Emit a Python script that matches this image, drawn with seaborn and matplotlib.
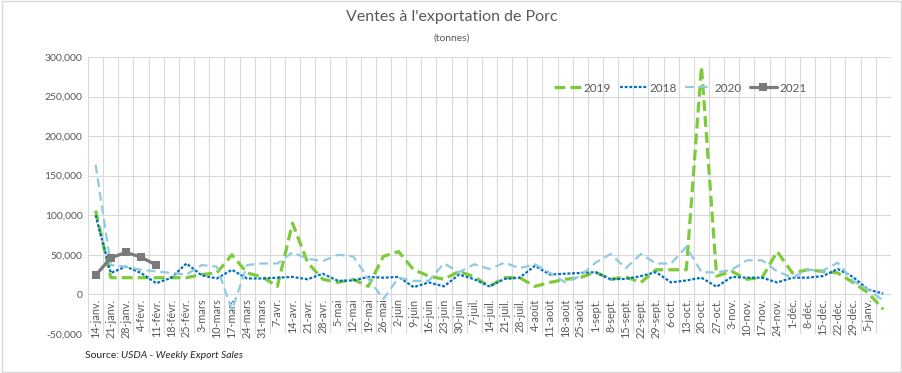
import numpy as np
import pandas as pd
import matplotlib
matplotlib.use("Agg")
import matplotlib.pyplot as plt
import seaborn as sns
from matplotlib.patches import Rectangle
from matplotlib.ticker import FuncFormatter, MultipleLocator

# semaines (axe des catégories)
weeks = ["14-janv.", "21-janv.", "28-janv.", "4-févr.", "11-févr.", "18-févr.", "25-févr.",
         "3-mars", "10-mars", "17-mars", "24-mars", "31-mars", "7-avr.", "14-avr.", "21-avr.",
         "28-avr.", "5-mai", "12-mai", "19-mai", "26-mai", "2-juin", "9-juin", "16-juin",
         "23-juin", "30-juin", "7-juil.", "14-juil.", "21-juil.", "28-juil.", "4-août",
         "11-août", "18-août", "25-août", "1-sept.", "8-sept.", "15-sept.", "22-sept.",
         "29-sept.", "6-oct.", "13-oct.", "20-oct.", "27-oct.", "3-nov.", "10-nov.", "17-nov.",
         "24-nov.", "1-déc.", "8-déc.", "15-déc.", "22-déc.", "29-déc.", "5-janv.", ""]

# ventes hebdomadaires (tonnes)
v2019 = [106000, 21000, 21000, 21000, 21000, 21000, 21000, 25000, 27000, 50000, 27000, 22000,
         10000, 90000, 40000, 19000, 15000, 19000, 10000, 48000, 54000, 31000, 23000, 19000,
         29000, 22000, 10000, 21000, 21000, 10000, 15000, 19000, 21000, 28000, 19000, 22000,
         15000, 31000, 31000, 31000, 288000, 23000, 29000, 19000, 21000, 54000, 27000, 31000,
         29000, 27000, 15000, 2000, -19000]
v2018 = [100000, 27000, 35000, 27000, 14000, 21000, 39000, 24000, 20000, 31000, 20000, 20000,
         21000, 22000, 19000, 26000, 17000, 17500, 22000, 21000, 22000, 9000, 15000, 10000,
         25000, 19000, 10000, 19500, 21000, 36000, 25000, 26000, 27000, 28000, 19000, 19500,
         23000, 28000, 15000, 17500, 21000, 9500, 22000, 21000, 21000, 15000, 21000, 21000,
         23000, 32000, 22000, 6000, 1000]
v2020 = [164000, 37000, 35000, 31000, 29000, 27000, 25000, 37000, 35000, -20000, 37000, 39000,
         39000, 53000, 45000, 42000, 50000, 48000, 20000, -6000, 21000, 17000, 17000, 39000,
         28000, 38000, 32000, 40000, 33000, 38000, 27000, 15000, 23000, 40000, 51000, 33000,
         51000, 39000, 39000, 60000, 28000, 27500, 31000, 43000, 43000, 29000, 21000, 31000,
         30000, 40000, 17000, 6000, -8000]
v2021 = [24000, 46000, 53000, 47000, 37000]

sns.set_theme(style="white")
plt.rcParams["font.family"] = ["Lato", "DejaVu Sans"]

fig = plt.figure(figsize=(9.03, 3.73), dpi=100)
ax = fig.add_axes([0.0975, 0.105, 0.889, 0.742])

x_all = np.arange(len(weeks))
series = [
    ("2019", v2019, "#7DCB3A", 2.3, (3.4, 1.6), None),
    ("2018", v2018, "#0070C0", 1.6, (1.3, 0.8), None),
    ("2020", v2020, "#8FCBE0", 1.6, (4.0, 2.2), None),
    ("2021", v2021, "#7A7A7A", 2.3, None, "s"),
]
for name, vals, col, lw, dash, mk in series:
    df = pd.DataFrame({"x": x_all[:len(vals)], "y": vals})
    sns.lineplot(data=df, x="x", y="y", ax=ax, color=col, linewidth=lw,
                 label=name, marker=mk, markersize=5.5 if mk else None,
                 markeredgewidth=0)
    l = ax.lines[-1]
    if dash:
        l.set_dashes(dash)
        l.set_dash_capstyle("butt")

# axe des catégories qui croise à 0 (étiquettes juste sous la ligne du zéro)
for s in ["top", "right", "left"]:
    ax.spines[s].set_visible(False)
ax.spines["bottom"].set_position(("data", 0))
ax.spines["bottom"].set_visible(False)

ax.set_xlim(-0.5, len(weeks) - 0.5)
ax.set_ylim(-50000, 300000)
ax.yaxis.set_major_locator(MultipleLocator(50000))
ax.yaxis.set_major_formatter(FuncFormatter(lambda v, p: f"{v:,.0f}"))
ax.set_xticks(x_all)
ax.set_xticklabels(weeks, rotation=90, fontsize=7.8, color="#595959")
ax.set_xticks(np.arange(-0.5, len(weeks), 1), minor=True)
ax.tick_params(axis="y", labelsize=7.5, labelcolor="#595959", length=0, pad=4)
ax.tick_params(axis="x", which="both", length=0, pad=3)
ax.grid(axis="y", which="major", color="#D9D9D9", linewidth=0.8)
ax.grid(axis="x", which="minor", color="#D9D9D9", linewidth=0.8)
ax.set_xlabel("")
ax.set_ylabel("")
ax.set_axisbelow(True)

ax.legend(loc="center", bbox_to_anchor=(0.738, 0.888), ncol=4, frameon=False,
          fontsize=8.5, handlelength=2.3, columnspacing=0.7, handletextpad=0.2,
          labelcolor="#595959")

fig.text(0.5, 0.955, "Ventes à l'exportation de Porc", ha="center", va="center",
         fontsize=11.5, color="#595959")
fig.text(0.5, 0.898, "(tonnes)", ha="center", va="center", fontsize=7.5, color="#595959")
src = fig.text(0.094, 0.048, "Source: ", ha="left", va="center", fontsize=7.5, color="#262626")
r = fig.canvas.get_renderer()
bb = src.get_window_extent(renderer=r)
fig.text(bb.x1 / fig.bbox.width, 0.048, "USDA - Weekly Export Sales", ha="left", va="center",
         fontsize=7.5, color="#262626", style="italic")

fig.patches.append(Rectangle((0.002, 0.003), 0.996, 0.994, transform=fig.transFigure,
                             fill=False, edgecolor="#D9D9D9", linewidth=1))

plt.savefig("out.png", dpi=100)
